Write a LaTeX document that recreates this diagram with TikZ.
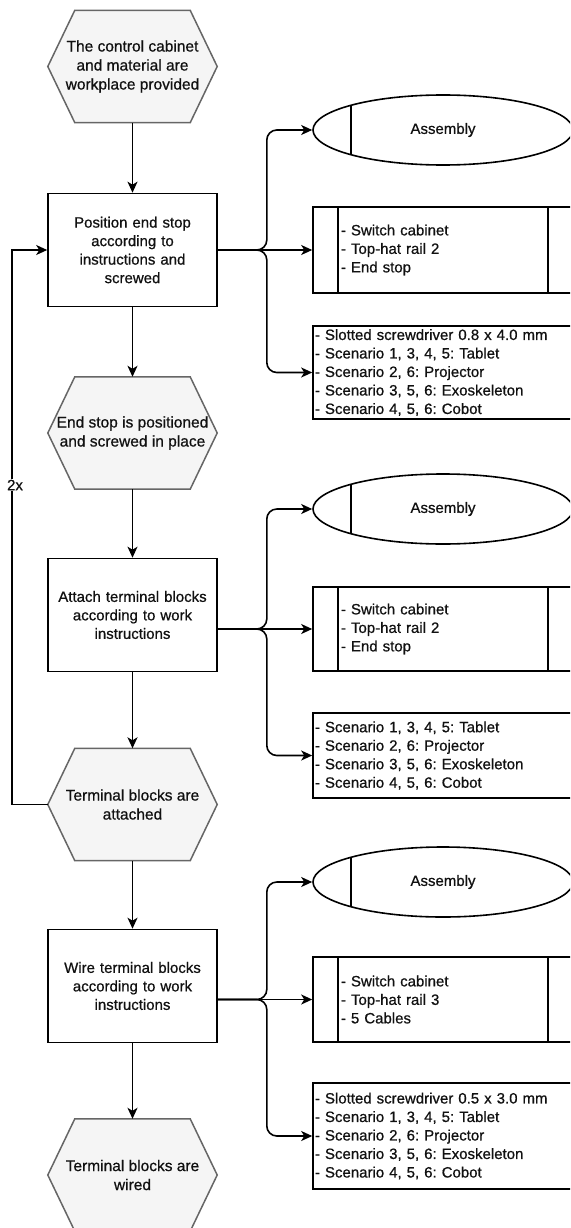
\documentclass[tikz,border=0pt]{standalone}
\usepackage{fontspec}
\setmainfont{Liberation Sans}[FakeBold=0.7]
\usepackage{tikz}
\usetikzlibrary{backgrounds,calc,shapes.geometric,arrows.meta}
\frenchspacing

\definecolor{evgray}{HTML}{666666}
\definecolor{evfill}{HTML}{F5F5F5}
\definecolor{txt}{HTML}{111111}

\tikzset{
    every node/.style={text=txt},
    evline/.style={draw=evgray, fill=evfill, line width=1.5pt},
    event/.style={minimum width=169, minimum height=112, inner sep=0pt,
        align=center, font=\fontsize{15.5}{19}\selectfont},
    func/.style={draw, line width=1.6pt, minimum width=169, minimum height=113,
        inner sep=0pt, text width=160, align=center, font=\fontsize{15}{18.5}\selectfont},
    asm/.style={ellipse, draw, line width=1.6pt, minimum width=260, minimum height=70,
        inner sep=0pt, font=\fontsize{15}{18.5}\selectfont},
    mat/.style={draw, line width=1.6pt, minimum width=260, text width=204,
        inner xsep=28, inner ysep=0pt, align=left, font=\fontsize{15}{18.5}\selectfont},
    tools/.style={draw, line width=1.6pt, minimum width=260, text width=256,
        inner xsep=2, inner ysep=0pt, align=left, font=\fontsize{15}{18.5}\selectfont},
    conn/.style={line width=1.6pt, -{Stealth[length=11pt,width=10pt,inset=3pt]}},
}

\begin{document}
\begin{tikzpicture}[x=1pt,y=-1pt]
    \useasboundingbox (0,0) rectangle (570,1228);
    \clip (0,0) rectangle (570,1228);

    % process chain
    \node[event] (ev0) at (132.5,66.5) {The control cabinet\\and material are\\workplace provided};
    \node[func]  (fn1) at (132.5,250)  {Position end stop\\according to\\instructions and\\screwed};
    \node[event] (ev1) at (132.5,433)  {End stop is positioned\\and screwed in place};
    \node[func]  (fn2) at (132.5,615)  {Attach terminal blocks\\according to work\\instructions};
    \node[event] (ev2) at (132.5,804.5) {Terminal blocks are\\attached};
    \node[func]  (fn3) at (132.5,986)  {Wire terminal blocks\\according to work\\instructions};
    \node[event] (ev3) at (132.5,1175) {Terminal blocks are\\wired};

    \begin{pgfonlayer}{background}
    \foreach \ev in {ev0,ev1,ev2,ev3}
        \draw[evline] (\ev.west) -- ([xshift=27pt]\ev.north west) -- ([xshift=-27pt]\ev.north east)
            -- (\ev.east) -- ([xshift=-27pt]\ev.south east) -- ([xshift=27pt]\ev.south west) -- cycle;
    \end{pgfonlayer}

    % resources of fn1
    \node[asm]   (asm1)  at (443,130)   {Assembly};
    \node[mat, minimum height=86] (mat1) at (443,250) {- Switch cabinet\\- Top-hat rail 2\\- End stop};
    \node[tools, minimum height=93] (tool1) at (443,372.5) {- Slotted screwdriver 0.8 x 4.0 mm\\- Scenario 1, 3, 4, 5: Tablet\\- Scenario 2, 6: Projector\\- Scenario 3, 5, 6: Exoskeleton\\- Scenario 4, 5, 6: Cobot};

    % resources of fn2
    \node[asm]   (asm2)  at (443,509)   {Assembly};
    \node[mat, minimum height=84] (mat2) at (443,629) {- Switch cabinet\\- Top-hat rail 2\\- End stop};
    \node[tools, minimum height=85] (tool2) at (443,755.5) {- Scenario 1, 3, 4, 5: Tablet\\- Scenario 2, 6: Projector\\- Scenario 3, 5, 6: Exoskeleton\\- Scenario 4, 5, 6: Cobot};

    % resources of fn3
    \node[asm]   (asm3)  at (443,882)   {Assembly};
    \node[mat, minimum height=85] (mat3) at (443,999.5) {- Switch cabinet\\- Top-hat rail 3\\- 5 Cables};
    \node[tools, minimum height=106] (tool3) at (443,1136) {- Slotted screwdriver 0.5 x 3.0 mm\\- Scenario 1, 3, 4, 5: Tablet\\- Scenario 2, 6: Projector\\- Scenario 3, 5, 6: Exoskeleton\\- Scenario 4, 5, 6: Cobot};

    \foreach \a in {asm1,asm2,asm3}
        \draw[line width=1.6pt] ($(\a.west)+(39,-24.4)$) -- ($(\a.west)+(39,24.4)$);
    \foreach \m in {mat1,mat2,mat3}{
        \draw[line width=1.6pt] ([xshift=26pt]\m.north west) -- ([xshift=26pt]\m.south west);
        \draw[line width=1.6pt] ([xshift=-26pt]\m.north east) -- ([xshift=-26pt]\m.south east);
    }

    % control flow
    \draw[conn] (ev0) -- (fn1);
    \draw[conn] (fn1) -- (ev1);
    \draw[conn] (ev1) -- (fn2);
    \draw[conn] (fn2) -- (ev2);
    \draw[conn] (ev2) -- (fn3);
    \draw[conn] (fn3) -- (ev3);

%    \draw[conn] (ev2.west) -| (fn1.west);
    \draw[conn] (ev2.west) -- ++(-36,0) |- (fn1.west);
    \node[fill=white, inner sep=1pt, font=\fontsize{15}{18}\selectfont] (rep) at (15,485) {2x};

    % resource links
    \draw[conn, rounded corners=10pt] (fn1.east |- mat1.west) -- ++(49,0) |- (asm1.west);
    \draw[conn] (fn1.east |- mat1.west) -- (mat1.west);
    \draw[conn, rounded corners=10pt] (fn1.east |- mat1.west) -- ++(49,0) |- (tool1.west);

    \draw[conn, rounded corners=10pt] (fn2.east |- mat2.west) -- ++(49,0) |- (asm2.west);
    \draw[conn] (fn2.east |- mat2.west) -- (mat2.west);
    \draw[conn, rounded corners=10pt] (fn2.east |- mat2.west) -- ++(49,0) |- (tool2.west);

    \draw[conn, rounded corners=10pt] (fn3.east |- mat3.west) -- ++(49,0) |- (asm3.west);
    \draw[conn] (fn3.east |- mat3.west) -- (mat3.west);
    \draw[conn, rounded corners=10pt] (fn3.east |- mat3.west) -- ++(49,0) |- (tool3.west);

\end{tikzpicture}
\end{document}
